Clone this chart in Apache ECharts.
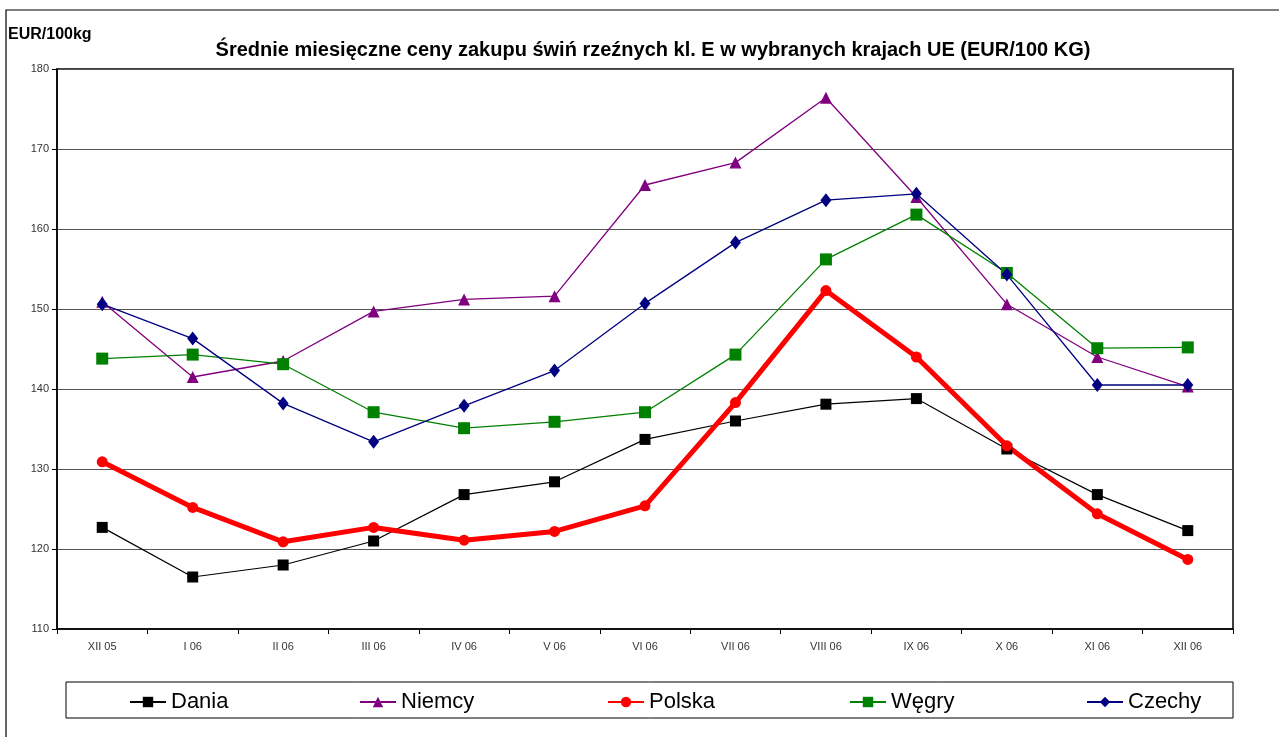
<!DOCTYPE html>
<html>
<head>
<meta charset="utf-8">
<title>Ceny zakupu świń rzeźnych</title>
<script src="https://cdn.jsdelivr.net/npm/echarts@6/dist/echarts.min.js"></script>
<style>
  html, body { margin: 0; padding: 0; background: #fff; }
  #chart { width: 1279px; height: 737px; }
</style>
</head>
<body>
<div id="chart"></div>
<script>
// miesiące (oś X)
var months = ["XII 05", "I 06", "II 06", "III 06", "IV 06", "V 06", "VI 06",
  "VII 06", "VIII 06", "IX 06", "X 06", "XI 06", "XII 06"];

// ceny EUR/100kg
var dania  = [122.7, 116.5, 118.0, 121.0, 126.8, 128.4, 133.7, 136.0, 138.1, 138.8, 132.5, 126.8, 122.3];
var niemcy = [150.9, 141.5, 143.5, 149.7, 151.2, 151.6, 165.5, 168.3, 176.4, 164.0, 150.6, 144.0, 140.3];
var polska = [130.9, 125.2, 120.9, 122.7, 121.1, 122.2, 125.4, 138.3, 152.3, 144.0, 132.9, 124.4, 118.7];
var wegry  = [143.8, 144.3, 143.1, 137.1, 135.1, 135.9, 137.1, 144.3, 156.2, 161.8, 154.5, 145.1, 145.2];
var czechy = [150.6, 146.3, 138.2, 133.4, 137.9, 142.3, 150.7, 158.3, 163.6, 164.4, 154.3, 140.5, 140.5];

var narrow = "'Liberation Sans Narrow', 'Arial Narrow', 'Liberation Sans', Arial, sans-serif";

var chart = echarts.init(document.getElementById("chart"));

// jedna legenda na pozycję, żeby trzymać rozstaw jak w oryginale
function legendAt(name, left) {
  return {
    data: [name],
    left: left,
    top: 686,
    itemWidth: 36,
    itemHeight: 13,
    itemGap: 6,
    textStyle: { fontSize: 22, color: "#000", fontFamily: narrow }
  };
}

var option = {
  backgroundColor: "#fff",
  animation: false,
  title: [
    {
      text: "Średnie miesięczne ceny zakupu świń rzeźnych kl. E w wybranych krajach UE (EUR/100 KG)",
      left: 648,
      textAlign: "center",
      top: 35,
      textStyle: { fontSize: 20, fontWeight: "bold", color: "#000", fontFamily: narrow }
    },
    {
      text: "EUR/100kg",
      left: 3,
      top: 22,
      textStyle: { fontSize: 16, fontWeight: "bold", color: "#000", fontFamily: "'Liberation Sans', Arial, sans-serif" }
    }
  ],
  legend: [
    legendAt("Dania", 124),
    legendAt("Niemcy", 354),
    legendAt("Polska", 602),
    legendAt("Węgry", 844),
    legendAt("Czechy", 1081)
  ],
  graphic: [
    {
      // ramka całego obszaru
      type: "rect",
      silent: true,
      shape: { x: 6, y: 10, width: 1300, height: 800 },
      style: { fill: "none", stroke: "#000", lineWidth: 1.2 }
    },
    {
      // ramka legendy
      type: "rect",
      silent: true,
      shape: { x: 66, y: 682, width: 1167, height: 36 },
      style: { fill: "none", stroke: "#000", lineWidth: 1 }
    }
  ],
  grid: {
    left: 57,
    top: 69,
    width: 1176,
    height: 560,
    show: true,
    borderColor: "#000",
    borderWidth: 1.5
  },
  xAxis: {
    type: "category",
    data: months,
    boundaryGap: true,
    axisLine: { lineStyle: { color: "#000", width: 1.5 } },
    axisTick: { show: true, length: 5, lineStyle: { color: "#000" } },
    axisLabel: { fontSize: 11, color: "#333", margin: 12, fontFamily: narrow }
  },
  yAxis: {
    type: "value",
    min: 110,
    max: 180,
    interval: 10,
    axisLine: { show: true, lineStyle: { color: "#000", width: 1.5 } },
    axisTick: { show: true, length: 5, lineStyle: { color: "#000" } },
    axisLabel: { fontSize: 11, color: "#333", margin: 8, fontFamily: narrow },
    splitLine: { show: true, lineStyle: { color: "#555", width: 1 } }
  },
  series: [
    {
      name: "Dania",
      type: "line",
      data: dania,
      symbol: "rect",
      symbolSize: 11,
      itemStyle: { color: "#000" },
      lineStyle: { color: "#000", width: 1.2 }
    },
    {
      name: "Niemcy",
      type: "line",
      data: niemcy,
      symbol: "triangle",
      symbolSize: 12,
      itemStyle: { color: "#800080" },
      lineStyle: { color: "#800080", width: 1.3 }
    },
    {
      name: "Polska",
      type: "line",
      data: polska,
      symbol: "circle",
      symbolSize: 11,
      itemStyle: { color: "#ff0000" },
      lineStyle: { color: "#ff0000", width: 5 }
    },
    {
      name: "Węgry",
      type: "line",
      data: wegry,
      symbol: "rect",
      symbolSize: 12,
      itemStyle: { color: "#008000" },
      lineStyle: { color: "#008000", width: 1.3 }
    },
    {
      name: "Czechy",
      type: "line",
      data: czechy,
      symbol: "diamond",
      symbolSize: [11, 14],
      itemStyle: { color: "#000080" },
      lineStyle: { color: "#000080", width: 1.3 }
    }
  ]
};

chart.setOption(option);
</script>
</body>
</html>
